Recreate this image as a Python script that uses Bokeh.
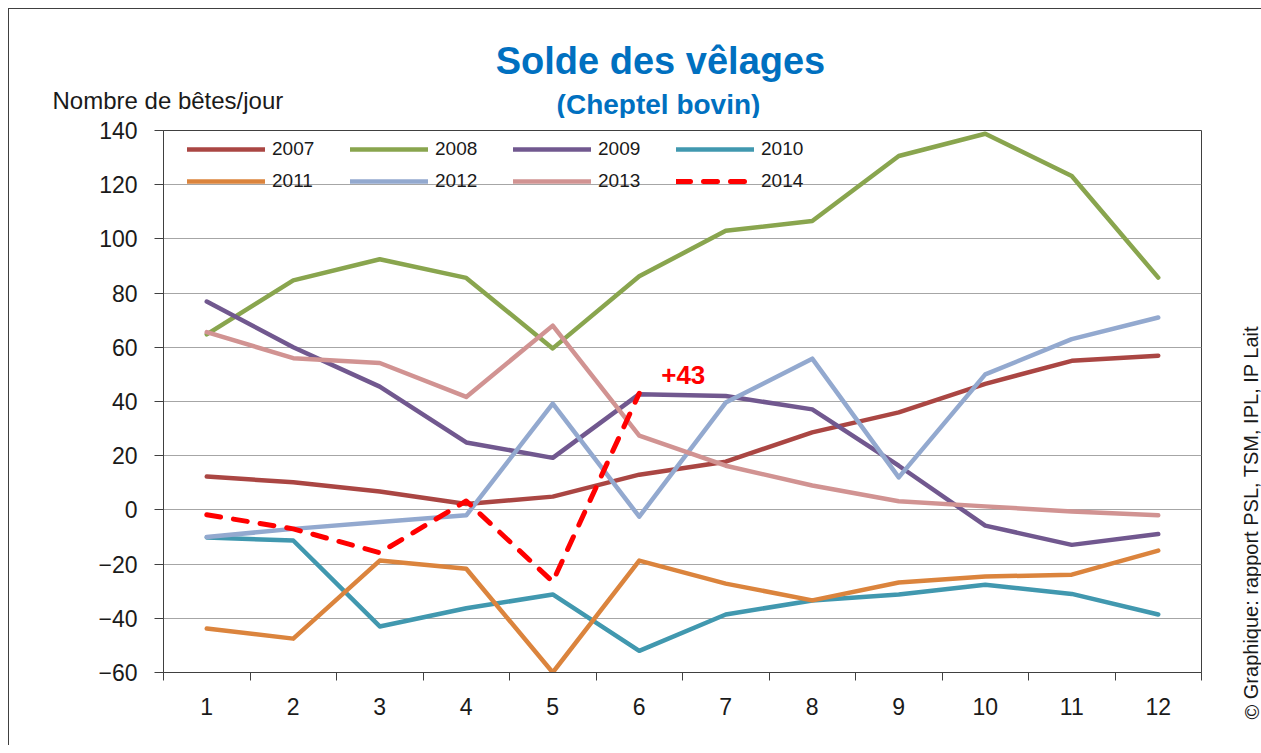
from bokeh.plotting import figure
from bokeh.models import (Range1d, FixedTicker, Legend, LegendItem, Label)
from bokeh.layouts import column, row
from bokeh.embed import file_html
from bokeh.resources import INLINE

months = [1, 2, 3, 4, 5, 6, 7, 8, 9, 10, 11, 12]
month_labels = ["1", "2", "3", "4", "5", "6", "7", "8", "9", "10", "11", "12"]
y_ticks = [-60, -40, -20, 0, 20, 40, 60, 80, 100, 120, 140]

s2007 = [12.3, 10.2, 6.8, 2.2, 4.9, 13.0, 17.8, 28.6, 36.0, 46.5, 55.0, 56.9]
s2008 = [64.8, 84.7, 92.5, 85.6, 59.6, 86.2, 103.0, 106.6, 130.6, 138.8, 123.2, 85.7]
s2009 = [76.9, 60.0, 45.5, 24.9, 19.2, 42.7, 42.0, 37.1, 16.3, -5.8, -12.9, -8.9]
s2010 = [-10.2, -11.3, -43.0, -36.3, -31.2, -52.0, -38.6, -33.4, -31.2, -27.6, -31.0, -38.6]
s2011 = [-43.8, -47.5, -18.7, -21.7, -60.0, -18.7, -27.2, -33.4, -26.8, -24.6, -23.9, -15.0]
s2012 = [-10.0, -7.0, -4.5, -2.0, 39.2, -2.5, 39.6, 55.8, 12.0, 50.0, 63.0, 71.0]
s2013 = [65.6, 56.0, 54.2, 41.7, 68.0, 27.4, 16.3, 9.0, 3.2, 1.3, -0.6, -2.0]
months_2014 = [1, 2, 3, 4, 5, 6]
s2014 = [-1.8, -7.0, -15.8, 3.3, -26.5, 43.0]

series_names = ["2007", "2008", "2009", "2010", "2011", "2012", "2013"]
series_values = [s2007, s2008, s2009, s2010, s2011, s2012, s2013]
series_colors = ["#AA4643", "#89A54E", "#71588F", "#4198AF", "#DB843D", "#93A9CF", "#D19392"]

FONT = "Liberation Sans"
TXT = "#1a1a1a"
BLUE = "#0070C0"


def blank_figure(w, h):
    f = figure(width=w, height=h, output_backend="svg", toolbar_location=None,
               x_range=Range1d(0, 1), y_range=Range1d(0, 1),
               x_axis_type=None, y_axis_type=None,
               min_border=0, min_border_left=0, min_border_right=0,
               min_border_top=0, min_border_bottom=0)
    f.outline_line_color = None
    f.xgrid.grid_line_color = None
    f.ygrid.grid_line_color = None
    return f


MAIN_W = 1226
HEAD_H = 109
B_LEFT, B_RIGHT, B_TOP, B_BOTTOM = 154, 34, 12, 73
FRAME_H = 542
MAIN_H = B_TOP + FRAME_H + B_BOTTOM

# ---------------- header (titles, y label) ----------------
head = blank_figure(MAIN_W, HEAD_H)
head.add_layout(Label(x=651, y=58, x_units="screen", y_units="screen",
                      text="Solde des vêlages", text_align="center",
                      text_baseline="alphabetic", text_font=FONT,
                      text_font_size="38px", text_font_style="bold",
                      text_color=BLUE))
head.add_layout(Label(x=649, y=14.5, x_units="screen", y_units="screen",
                      text="(Cheptel bovin)", text_align="center",
                      text_baseline="alphabetic", text_font=FONT,
                      text_font_size="28px", text_font_style="bold",
                      text_color=BLUE))
head.add_layout(Label(x=43, y=18, x_units="screen", y_units="screen",
                      text="Nombre de bêtes/jour", text_align="left",
                      text_baseline="alphabetic", text_font=FONT,
                      text_font_size="24px", text_color=TXT))

# ---------------- main chart ----------------
p = figure(width=MAIN_W, height=MAIN_H, output_backend="svg", toolbar_location=None,
           x_range=Range1d(0.5, 12.5), y_range=Range1d(-60, 140),
           min_border_left=B_LEFT, min_border_right=B_RIGHT, min_border_top=B_TOP,
           min_border_bottom=B_BOTTOM, background_fill_color="white",
           border_fill_color="white")

p.outline_line_color = "#404040"
p.outline_line_width = 1

p.xgrid.grid_line_color = None
p.ygrid.grid_line_color = "#A6A6A6"
p.ygrid.grid_line_width = 1
p.ygrid.ticker = FixedTicker(ticks=y_ticks)

p.yaxis.ticker = FixedTicker(ticks=y_ticks)
p.yaxis.axis_line_color = "#404040"
p.yaxis.major_tick_line_color = "#404040"
p.yaxis.major_tick_out = 9
p.yaxis.major_tick_in = 0
p.yaxis.minor_tick_line_color = None
p.yaxis.major_label_standoff = 17
p.yaxis.major_label_text_font = FONT
p.yaxis.major_label_text_font_size = "23px"
p.yaxis.major_label_text_color = TXT

p.xaxis.ticker = FixedTicker(ticks=months, minor_ticks=[m - 0.5 for m in months] + [12.5])
p.xaxis.major_label_overrides = {m: lab for m, lab in zip(months, month_labels)}
p.xaxis.axis_line_color = "#404040"
p.xaxis.major_tick_line_color = None
p.xaxis.major_tick_out = 0
p.xaxis.major_tick_in = 0
p.xaxis.minor_tick_line_color = "#404040"
p.xaxis.minor_tick_out = 8
p.xaxis.minor_tick_in = 0
p.xaxis.major_label_standoff = 17
p.xaxis.major_label_text_font = FONT
p.xaxis.major_label_text_font_size = "23px"
p.xaxis.major_label_text_color = TXT

renderers = []
for name, vals, col in zip(series_names, series_values, series_colors):
    r = p.line(months, vals, line_color=col, line_width=4.5, line_join="round",
               line_cap="round")
    renderers.append(r)
r14 = p.line(months_2014, s2014, line_color="#FF0000", line_width=5,
             line_dash="14 13", line_cap="round", line_join="round")
renderers.append(r14)

names_all = series_names + ["2014"]
items = [LegendItem(label=n, renderers=[r]) for n, r in zip(names_all, renderers)]


def make_legend(its, top_from_frame_top):
    lg = Legend(items=its, orientation="horizontal",
                location=(24, FRAME_H - top_from_frame_top - 20))
    lg.glyph_width = 78
    lg.glyph_height = 20
    lg.label_height = 20
    lg.label_width = 70
    lg.label_standoff = 7
    lg.spacing = 8
    lg.padding = 0
    lg.margin = 0
    lg.border_line_color = None
    lg.background_fill_alpha = 0
    lg.label_text_font = FONT
    lg.label_text_font_size = "19px"
    lg.label_text_color = TXT
    return lg


p.add_layout(make_legend(items[:4], 10))
p.add_layout(make_legend(items[4:], 42))

p.add_layout(Label(x=months_2014[-1], y=s2014[-1], text="+%d" % round(s2014[-1]),
                   x_offset=44, y_offset=18, text_align="center",
                   text_baseline="alphabetic", text_font=FONT,
                   text_font_size="26px", text_font_style="bold",
                   text_color="#FF0000"))

# ---------------- right strip (copyright) ----------------
SIDE_W = 26
side = blank_figure(SIDE_W, HEAD_H + MAIN_H)
side.add_layout(Label(x=16, y=26, x_units="screen", y_units="screen",
                      text="© Graphique: rapport PSL, TSM, IPL, IP Lait",
                      angle=1.5708, text_align="left", text_baseline="alphabetic",
                      text_font=FONT, text_font_size="20px", text_color=TXT))

layout = row(column(row(head), row(p), spacing=0), side, spacing=0,
             styles={"margin-left": "8px", "margin-top": "8px",
                     "border-left": "1px solid #404040",
                     "border-top": "1px solid #404040"})

open("out.html", "w").write(file_html(layout, INLINE))
